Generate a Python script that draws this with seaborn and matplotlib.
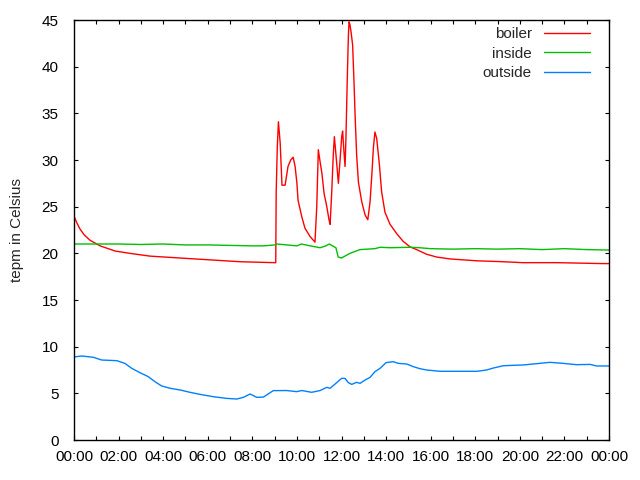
import matplotlib
matplotlib.use("Agg")
import matplotlib.pyplot as plt
import seaborn as sns
import pandas as pd
import numpy as np

# ---- data (hours since midnight, degrees Celsius) ----
boiler_t = [0.0, 0.12, 0.27, 0.45, 0.72, 1.17, 1.84, 2.5, 3.41, 4.75, 6.1, 7.45, 9.0, 9.05,
            9.07, 9.12, 9.17, 9.25, 9.33, 9.47, 9.6, 9.72, 9.83, 9.92, 10.0, 10.05,
            10.22, 10.36, 10.59, 10.81, 10.89, 10.96, 11.04, 11.12, 11.22, 11.34,
            11.44, 11.49, 11.56, 11.63, 11.68, 11.79, 11.86, 11.93, 12.01, 12.05,
            12.11, 12.16, 12.20, 12.26, 12.31, 12.34, 12.38, 12.43, 12.50, 12.56,
            12.61, 12.68, 12.76, 12.91, 13.06, 13.18, 13.28, 13.36, 13.43, 13.50,
            13.58, 13.70, 13.80, 13.95, 14.18, 14.48, 14.76, 15.07, 15.37, 15.82,
            16.27, 16.87, 18.07, 19.25, 20.14, 21.66, 23.73, 24.0]
boiler_v = [24.0, 23.3, 22.6, 22.0, 21.4, 20.8, 20.25, 20.0, 19.7, 19.5, 19.3, 19.1, 19.0, 19.0,
            26.5, 31.4, 34.1, 31.8, 27.3, 27.3, 29.3, 30.0, 30.3, 29.3, 27.5, 25.7,
            23.9, 22.7, 21.8, 21.2, 25.0, 31.1, 29.8, 28.6, 26.4, 25.0,
            23.6, 23.1, 26.5, 30.5, 32.5, 29.5, 27.5, 29.8, 32.5, 33.1,
            30.9, 29.3, 32.4, 38.8, 43.4, 44.8, 44.5, 43.7, 42.3, 38.4,
            34.8, 30.5, 27.6, 25.5, 24.1, 23.6, 25.5, 28.4, 31.3, 33.0,
            32.3, 29.5, 26.6, 24.4, 23.1, 22.1, 21.3, 20.7, 20.4, 19.9,
            19.6, 19.4, 19.2, 19.1, 19.0, 19.0, 18.9, 18.9]

inside_t = [0.0, 1.0, 2.0, 3.0, 4.0, 5.0, 6.0, 7.0, 8.0, 8.5, 9.0, 9.1, 10.0, 10.2,
            10.6, 11.04, 11.3, 11.45, 11.75, 11.85, 12.0, 12.38, 12.83, 13.5, 13.73,
            14.18, 15.07, 15.5, 16.0, 17.0, 18.0, 19.0, 20.0, 21.0, 22.0, 23.0, 24.0]
inside_v = [21.0, 21.0, 21.0, 20.95, 21.0, 20.9, 20.9, 20.85, 20.8, 20.8, 20.9, 21.0,
            20.8, 21.0, 20.8, 20.6, 20.8, 21.0, 20.6, 19.6, 19.5, 20.0, 20.4, 20.5,
            20.65, 20.6, 20.65, 20.6, 20.5, 20.45, 20.5, 20.45, 20.5, 20.4, 20.5,
            20.4, 20.35]

outside_t = [0.0, 0.35, 0.87, 1.24, 1.92, 2.29, 2.59, 2.96, 3.33, 3.63, 3.93, 4.31,
             4.76, 5.2, 5.65, 6.25, 6.85, 7.3, 7.6, 7.9, 8.2, 8.5, 8.94, 9.54, 9.99,
             10.22, 10.66, 11.04, 11.34, 11.49, 11.78, 12.01, 12.16, 12.31, 12.46,
             12.68, 12.83, 13.06, 13.28, 13.5, 13.73, 14.0, 14.32, 14.55, 14.93,
             15.22, 15.52, 15.82, 16.42, 18.07, 18.51, 18.81, 19.26, 20.16, 20.76,
             21.35, 21.95, 22.55, 23.15, 23.45, 24.0]
outside_v = [8.9, 9.0, 8.86, 8.57, 8.5, 8.2, 7.68, 7.21, 6.79, 6.25, 5.79, 5.54,
             5.36, 5.11, 4.89, 4.64, 4.46, 4.39, 4.57, 4.93, 4.57, 4.6, 5.29, 5.3, 5.18,
             5.3, 5.11, 5.3, 5.64, 5.54, 6.14, 6.61, 6.6, 6.14, 5.96,
             6.18, 6.07, 6.43, 6.71, 7.32, 7.68, 8.29, 8.39, 8.21, 8.14,
             7.86, 7.64, 7.5, 7.36, 7.36, 7.5, 7.71, 7.96, 8.04, 8.18,
             8.32, 8.21, 8.07, 8.1, 7.93, 7.93]

series_names = ["boiler", "inside", "outside"]
series_colors = ["#ff0000", "#00c000", "#0080ff"]
x_tick_hours = list(range(0, 25, 2))
x_tick_labels = ["00:00", "02:00", "04:00", "06:00", "08:00", "10:00", "12:00",
                 "14:00", "16:00", "18:00", "20:00", "22:00", "00:00"]
y_ticks = [0, 5, 10, 15, 20, 25, 30, 35, 40, 45]
y_label = "tepm in Celsius"

# ---- build long table ----
frames = []
for name, t, v in zip(series_names, [boiler_t, inside_t, outside_t],
                      [boiler_v, inside_v, outside_v]):
    frames.append(pd.DataFrame({"hour": t, "temp": v, "series": name}))
df = pd.concat(frames, ignore_index=True)

sns.set_theme(style="ticks")
plt.rcParams["font.family"] = ["Liberation Sans", "DejaVu Sans"]

FS = 11

fig = plt.figure(figsize=(6.4, 4.8), dpi=100)
ax = fig.add_axes([74 / 640, 1 - 440 / 480, (609 - 74) / 640, (440 - 20) / 480])

sns.lineplot(data=df, x="hour", y="temp", hue="series", hue_order=series_names,
             palette=series_colors, linewidth=1.0, ax=ax, sort=False,
             estimator=None, legend=False)

for name, col in zip(series_names, series_colors):
    ax.plot([], [], color=col, linewidth=1.0, label=name)

ax.set_xlim(0, 24)
ax.set_ylim(0, 45)
ax.set_xticks(x_tick_hours)
ax.set_xticks(range(0, 25), minor=True)
ax.set_xticklabels(x_tick_labels)
ax.set_yticks(y_ticks)
ax.set_xlabel("")
ax.set_ylabel(y_label, fontsize=FS, labelpad=13)

for s in ax.spines.values():
    s.set_visible(True)
    s.set_color("black")
    s.set_linewidth(1.0)

ax.tick_params(axis="both", which="both", direction="in", top=True, right=True,
               length=3.2, width=0.8, color="black", labelsize=FS, labelcolor="black")
ax.tick_params(axis="x", which="major", pad=7)
ax.tick_params(axis="y", which="major", pad=11)

leg = ax.legend(loc="upper right", bbox_to_anchor=(0.9645, 0.983), frameon=False,
                markerfirst=False, fontsize=FS, handlelength=3.0, handletextpad=0.8,
                labelspacing=0.36, borderaxespad=0, borderpad=0)
for txt in leg.get_texts():
    txt.set_ha("right")

fig.savefig("out.png", dpi=100, facecolor="white")
